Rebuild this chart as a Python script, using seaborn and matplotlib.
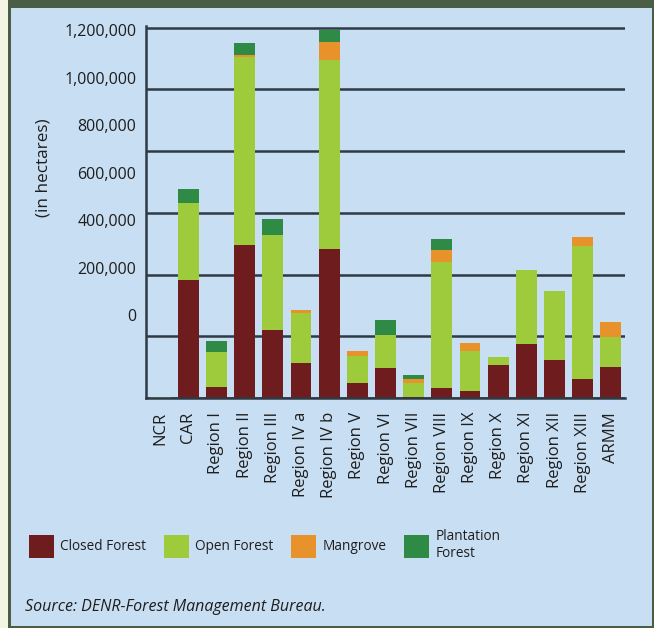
import numpy as np
import pandas as pd
import matplotlib
matplotlib.use("Agg")
import matplotlib.pyplot as plt
from matplotlib.patches import Rectangle, Patch
import seaborn as sns

# ---------------- data (hectares) ----------------
regions = ["NCR", "CAR", "Region I", "Region II", "Region III", "Region IV a",
           "Region IV b", "Region V", "Region VI", "Region VII", "Region VIII",
           "Region IX", "Region X", "Region XI", "Region XII", "Region XIII", "ARMM"]
closed_forest = [0, 382000, 35000, 497000, 220000, 112000, 484000, 48000, 96000,
                 2000, 31000, 24000, 107000, 174000, 123000, 60000, 101000]
open_forest = [4000, 250000, 115000, 608000, 307000, 162000, 612000, 88000, 108000,
               45000, 410000, 129000, 27000, 242000, 223000, 433000, 97000]
mangrove = [0, 0, 0, 5000, 0, 10000, 57000, 16000, 0,
            13000, 38000, 24000, 0, 0, 0, 27000, 47000]
plantation_forest = [0, 44000, 34000, 40000, 54000, 0, 38000, 0, 48000,
                     13000, 35000, 0, 0, 0, 0, 0, 0]
ytick_labels = ["1,200,000", "1,000,000", "800,000", "600,000", "400,000", "200,000", "0"]
grid_values = [0, 200000, 400000, 600000, 800000, 1000000, 1200000]
series_names = ["Closed Forest", "Open Forest", "Mangrove", "Plantation\nForest"]

# ---------------- style ----------------
C_CLOSED = "#6e1c1e"
C_OPEN = "#9dcb3c"
C_MANG = "#e8922c"
C_PLANT = "#2f8a45"
BG = "#c8def2"
FRAME = "#4a5e45"
CREAM = "#f4f6e4"
GRID = "#2e3a46"
TXT = "#1e1e1e"

sns.set_theme(style="white")
plt.rcParams["font.family"] = ["Open Sans", "DejaVu Sans"]

W, H = 654, 628
fig = plt.figure(figsize=(W / 100, H / 100), dpi=100)
fig.patch.set_facecolor(CREAM)
fig.add_artist(Rectangle((8 / W, 0), 1 - 8 / W, 1, transform=fig.transFigure,
                         facecolor=FRAME, edgecolor="none", zorder=-10))
fig.add_artist(Rectangle((11 / W, 2 / H), (652 - 11) / W, (626 - 8) / H,
                         transform=fig.transFigure, facecolor=BG,
                         edgecolor="none", zorder=-9))

# axes: x from 146 to 625 px, y from 398 (0) to 27.5 (1.2M)
ax_l, ax_r, ax_b, ax_t = 146, 625, 398, 26
ax = fig.add_axes([ax_l / W, 1 - ax_b / H, (ax_r - ax_l) / W, (ax_b - ax_t) / H])
ax.set_facecolor("none")

df = pd.DataFrame({"region": regions, "closed": closed_forest, "open": open_forest,
                   "mangrove": mangrove, "plantation": plantation_forest})
df["lvl1"] = df["closed"]
df["lvl2"] = df["lvl1"] + df["open"]
df["lvl3"] = df["lvl2"] + df["mangrove"]
df["lvl4"] = df["lvl3"] + df["plantation"]

for col, colr in [("lvl4", C_PLANT), ("lvl3", C_MANG), ("lvl2", C_OPEN), ("lvl1", C_CLOSED)]:
    sns.barplot(data=df, x="region", y=col, color=colr, saturation=1, width=0.74,
                errorbar=None, ax=ax, zorder=3, linewidth=0)

top = 1200000 * (ax_b - ax_t) / (ax_b - 27.5)
ax.set_ylim(0, top)
ax.set_xlim(-0.5, len(regions) - 0.5)

# gridlines at true 200,000 steps
ax.set_yticks(grid_values, minor=True)
ax.grid(which="minor", axis="y", color=GRID, linewidth=1.8, zorder=1)
ax.grid(which="major", visible=False)
ax.set_axisbelow(True)

# tick labels placed as printed in the original (offset from the gridlines)
label_frac = [0.993, 0.865, 0.737, 0.608, 0.480, 0.352, 0.224]
ax.set_yticks([f * 1200000 for f in label_frac])
ax.set_yticklabels(ytick_labels)
ax.tick_params(axis="y", which="both", length=0, pad=7, labelsize=11.5, labelcolor=TXT)

ax.set_xticks(range(len(regions)))
ax.set_xticklabels(regions, rotation=90, va="top", ha="center")
ax.tick_params(axis="x", which="major", length=0, pad=10, labelsize=12, labelcolor=TXT)
ax.set_xticks(np.arange(-0.5, len(regions)), minor=True)
ax.tick_params(axis="x", which="minor", direction="in", length=4, width=1, color=GRID)
ax.set_xlabel("")
ax.set_ylabel("(in hectares)", fontsize=12.3, color=TXT)
ax.yaxis.set_label_coords(-0.197, 0.62)

for s in ["top", "right"]:
    ax.spines[s].set_visible(False)
for s in ["left", "bottom"]:
    ax.spines[s].set_color(GRID)
    ax.spines[s].set_linewidth(1.8)
    ax.spines[s].set_zorder(4)

handles = [Patch(facecolor=c, edgecolor="none") for c in [C_CLOSED, C_OPEN, C_MANG, C_PLANT]]
fig.legend(handles, series_names, loc="center left", bbox_to_anchor=(29 / W, 1 - 545 / H),
           ncol=4, frameon=False, fontsize=9.8, handlelength=1.85, handleheight=2.2,
           handletextpad=0.45, columnspacing=1.3, borderpad=0, borderaxespad=0,
           labelspacing=0, labelcolor=TXT)

fig.text(25 / W, 1 - 607 / H, "Source: DENR-Forest Management Bureau.", fontsize=11.5,
         style="italic", color=TXT, ha="left", va="center")

fig.savefig("out.png", dpi=100, facecolor=fig.get_facecolor())
